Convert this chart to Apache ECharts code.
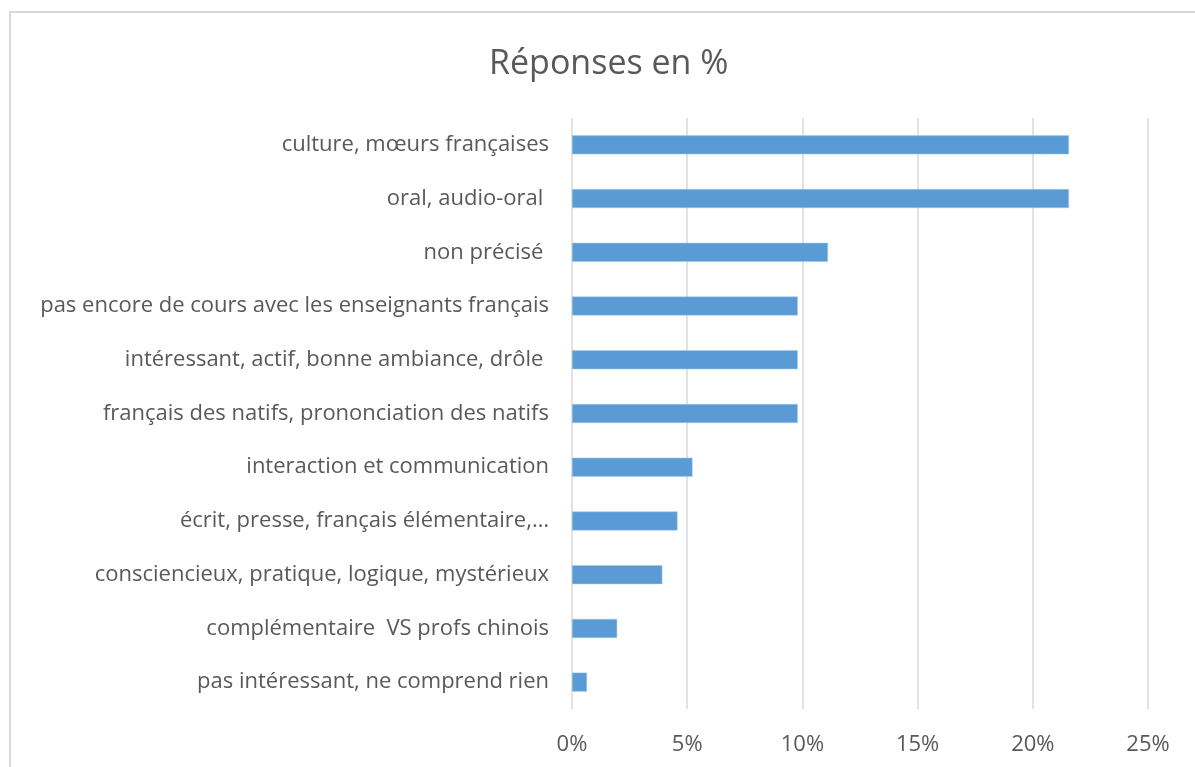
<!DOCTYPE html>
<html>
<head>
<meta charset="utf-8">
<script src="https://cdn.jsdelivr.net/npm/echarts@6/dist/echarts.min.js"></script>
<style>html,body{margin:0;padding:0;background:#fff;}#c{width:1195px;height:767px;}</style>
</head>
<body>
<div id="c"></div>
<script>
const categories = [
  "culture, mœurs françaises",
  "oral, audio-oral ",
  "non précisé ",
  "pas encore de cours avec les enseignants français",
  "intéressant, actif, bonne ambiance, drôle ",
  "français des natifs, prononciation des natifs",
  "interaction et communication",
  "écrit, presse, français élémentaire,…",
  "consciencieux, pratique, logique, mystérieux",
  "complémentaire  VS profs chinois",
  "pas intéressant, ne comprend rien"
];
const values = [21.57, 21.57, 11.11, 9.80, 9.80, 9.80, 5.23, 4.58, 3.92, 1.96, 0.65];
const xTicks = [0, 5, 10, 15, 20, 25];
const titleText = "Réponses en %";

const chart = echarts.init(document.getElementById('c'));
const FONT = "Open Sans";
chart.setOption({
  animation: false,
  backgroundColor: '#ffffff',
  title: {
    text: titleText, left: 484, top: 42,
    textStyle: { fontFamily: FONT, fontSize: 34, fontWeight: 'normal', color: '#595959' }
  },
  graphic: [{
    type: 'rect', shape: { x: 10, y: 12, width: 1240, height: 800 },
    style: { fill: 'none', stroke: '#d9d9d9', lineWidth: 2 }, silent: true, z: -1
  }],
  grid: { left: 572, right: 47, top: 118, bottom: 58, containLabel: false },
  xAxis: {
    type: 'value', min: xTicks[0], max: xTicks[xTicks.length - 1], interval: 5,
    axisLine: { show: false }, axisTick: { show: false },
    splitLine: { show: true, lineStyle: { color: '#d9d9d9', width: 1.5 } },
    axisLabel: { formatter: v => v + '%', margin: 25, fontFamily: FONT, fontSize: 22, color: '#595959' }
  },
  yAxis: {
    type: 'category', data: categories, inverse: true,
    axisLine: { show: false }, axisTick: { show: false },
    axisLabel: { margin: 23, fontFamily: FONT, fontSize: 22, color: '#595959' }
  },
  series: [{
    type: 'bar', data: values, barWidth: 19,
    itemStyle: { color: '#5b9bd5', borderColor: '#a9c8ea', borderWidth: 0.5 }
  }]
});
</script>
</body>
</html>
